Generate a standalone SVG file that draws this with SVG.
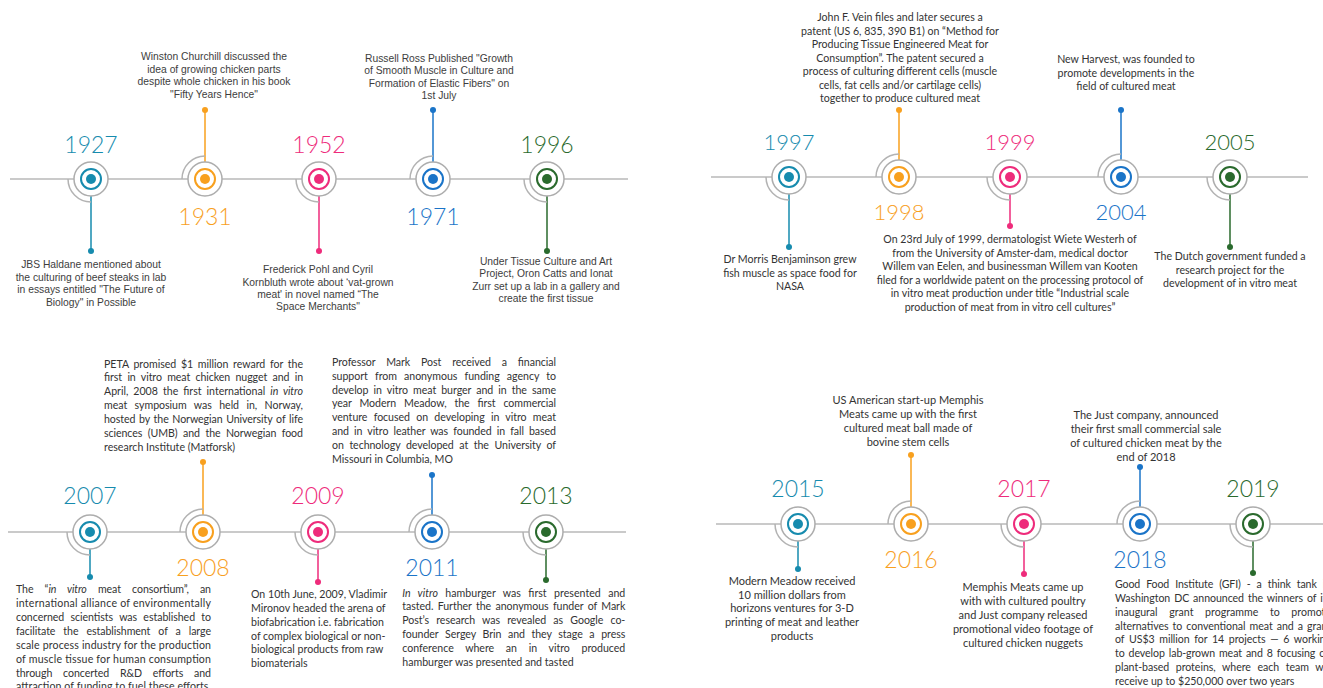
<svg xmlns="http://www.w3.org/2000/svg" width="1323" height="688" viewBox="0 0 1323 688">
<style>
.tl{stroke:#b8b8b8;stroke-width:1.5;fill:none}
.stem{stroke:currentColor;stroke-width:1.5;fill:none}
.end{fill:currentColor}
.gc{fill:#fff;stroke:#adadad;stroke-width:1.5}
.arc{fill:none;stroke:#b3b3b3;stroke-width:1.5}
.ring{fill:#fff;stroke:currentColor;stroke-width:2}
.dot{fill:currentColor}
.yr{font-family:Lato,"Liberation Sans",sans-serif;font-weight:300;font-size:23px;text-anchor:middle;fill:currentColor}
.y2{font-size:22px}
.a{font-family:"Liberation Sans",Arial,sans-serif;font-size:10.3px;fill:#3d3d3d;text-anchor:middle}
.c{font-family:Lato,"Open Sans",sans-serif;font-size:10.6px;fill:#333}
.cm{font-family:Lato,"Open Sans",sans-serif;font-size:10.6px;fill:#333;text-anchor:middle}
.c4{font-size:11px}
.i{font-style:italic}
.teal{color:#168bae}
.orange{color:#f8a01e}
.pink{color:#ee2b7b}
.blue{color:#1a74c8}
.green{color:#2a6a2d}
</style>
<rect width="1323" height="688" fill="#fff"/>

<g id="connectors">
  <line class="tl" x1="10" y1="179" x2="628" y2="179"/>
  <line class="tl" x1="711" y1="177" x2="1308" y2="177"/>
  <line class="tl" x1="8" y1="532" x2="626" y2="532"/>
  <line class="tl" x1="716" y1="524" x2="1323" y2="524"/>
  <g class="teal"><line class="stem" x1="91" y1="196" x2="91" y2="251"/><circle class="end" cx="91" cy="251" r="3"/></g>
  <g class="orange"><line class="stem" x1="205" y1="162" x2="205" y2="110"/><circle class="end" cx="205" cy="110" r="3"/></g>
  <g class="pink"><line class="stem" x1="319" y1="196" x2="319" y2="251"/><circle class="end" cx="319" cy="251" r="3"/></g>
  <g class="blue"><line class="stem" x1="433" y1="162" x2="433" y2="110"/><circle class="end" cx="433" cy="110" r="3"/></g>
  <g class="green"><line class="stem" x1="547" y1="196" x2="547" y2="251"/><circle class="end" cx="547" cy="251" r="3"/></g>

  <g class="teal"><line class="stem" x1="789" y1="194" x2="789" y2="247"/><circle class="end" cx="789" cy="247" r="3"/></g>
  <g class="orange"><line class="stem" x1="899" y1="160" x2="899" y2="110"/><circle class="end" cx="899" cy="110" r="3"/></g>
  <g class="pink"><line class="stem" x1="1010" y1="194" x2="1010" y2="226"/><circle class="end" cx="1010" cy="226" r="3"/></g>
  <g class="blue"><line class="stem" x1="1121" y1="160" x2="1121" y2="110"/><circle class="end" cx="1121" cy="110" r="3"/></g>
  <g class="green"><line class="stem" x1="1230" y1="194" x2="1230" y2="247"/><circle class="end" cx="1230" cy="247" r="3"/></g>

  <g class="teal"><line class="stem" x1="90" y1="549" x2="90" y2="577"/><circle class="end" cx="90" cy="577" r="3"/></g>
  <g class="orange"><line class="stem" x1="203" y1="515" x2="203" y2="462"/><circle class="end" cx="203" cy="462" r="3"/></g>
  <g class="pink"><line class="stem" x1="318" y1="549" x2="318" y2="582"/><circle class="end" cx="318" cy="582" r="3"/></g>
  <g class="blue"><line class="stem" x1="432" y1="515" x2="432" y2="475"/><circle class="end" cx="432" cy="475" r="3"/></g>
  <g class="green"><line class="stem" x1="546" y1="549" x2="546" y2="580"/><circle class="end" cx="546" cy="580" r="3"/></g>

  <g class="teal"><line class="stem" x1="798" y1="541" x2="798" y2="569"/><circle class="end" cx="798" cy="569" r="3"/></g>
  <g class="orange"><line class="stem" x1="911" y1="507" x2="911" y2="455"/><circle class="end" cx="911" cy="455" r="3"/></g>
  <g class="pink"><line class="stem" x1="1024" y1="541" x2="1024" y2="574"/><circle class="end" cx="1024" cy="574" r="3"/></g>
  <g class="blue"><line class="stem" x1="1140" y1="507" x2="1140" y2="467"/><circle class="end" cx="1140" cy="467" r="3"/></g>
  <g class="green"><line class="stem" x1="1253" y1="541" x2="1253" y2="573"/><circle class="end" cx="1253" cy="573" r="3"/></g>
</g>

<!-- Panel 1 -->
<g id="n1927" class="teal">
  <path class="arc" d="M68,179A23,23 0 0 0 91,202"/>
  <circle class="gc" cx="91" cy="179" r="17"/><circle class="ring" cx="91" cy="179" r="10"/><circle class="dot" cx="91" cy="179" r="5"/>
  <text class="yr" x="91" y="153">1927</text>
  <text class="a"><tspan x="91" y="268">JBS Haldane mentioned about</tspan><tspan x="91" y="280.5">the culturing of beef steaks in lab</tspan><tspan x="91" y="293">in essays entitled "The Future of</tspan><tspan x="91" y="305.5">Biology" in Possible</tspan></text>
</g>
<g id="n1931" class="orange">
  <path class="arc" d="M182,179A23,23 0 0 1 205,156"/>
  <circle class="gc" cx="205" cy="179" r="17"/><circle class="ring" cx="205" cy="179" r="10"/><circle class="dot" cx="205" cy="179" r="5"/>
  <text class="yr" x="205" y="225">1931</text>
  <text class="a"><tspan x="214" y="60">Winston Churchill discussed the</tspan><tspan x="214" y="72.5">idea of growing chicken parts</tspan><tspan x="214" y="85">despite whole chicken in his book</tspan><tspan x="214" y="97.5">"Fifty Years Hence"</tspan></text>
</g>
<g id="n1952" class="pink">
  <path class="arc" d="M296,179A23,23 0 0 0 319,202"/>
  <circle class="gc" cx="319" cy="179" r="17"/><circle class="ring" cx="319" cy="179" r="10"/><circle class="dot" cx="319" cy="179" r="5"/>
  <text class="yr" x="319" y="153">1952</text>
  <text class="a"><tspan x="318" y="273">Frederick Pohl and Cyril</tspan><tspan x="318" y="285.5">Kornbluth wrote about ‘vat-grown</tspan><tspan x="318" y="298">meat' in novel named “The</tspan><tspan x="318" y="310">Space Merchants"</tspan></text>
</g>
<g id="n1971" class="blue">
  <path class="arc" d="M410,179A23,23 0 0 1 433,156"/>
  <circle class="gc" cx="433" cy="179" r="17"/><circle class="ring" cx="433" cy="179" r="10"/><circle class="dot" cx="433" cy="179" r="5"/>
  <text class="yr" x="433" y="225">1971</text>
  <text class="a"><tspan x="439" y="61.5">Russell Ross Published "Growth</tspan><tspan x="439" y="74">of Smooth Muscle in Culture and</tspan><tspan x="439" y="86.5">Formation of Elastic Fibers" on</tspan><tspan x="439" y="98.5">1st July</tspan></text>
</g>
<g id="n1996" class="green">
  <path class="arc" d="M524,179A23,23 0 0 0 547,202"/>
  <circle class="gc" cx="547" cy="179" r="17"/><circle class="ring" cx="547" cy="179" r="10"/><circle class="dot" cx="547" cy="179" r="5"/>
  <text class="yr" x="547" y="153">1996</text>
  <text class="a"><tspan x="546" y="265">Under Tissue Culture and Art</tspan><tspan x="546" y="277">Project, Oron Catts and Ionat</tspan><tspan x="546" y="289.5">Zurr set up a lab in a gallery and</tspan><tspan x="546" y="301.5">create the first tissue</tspan></text>
</g>

<!-- Panel 2 -->
<g id="n1997" class="teal">
  <path class="arc" d="M766,177A23,23 0 0 0 789,200"/>
  <circle class="gc" cx="789" cy="177" r="17"/><circle class="ring" cx="789" cy="177" r="10"/><circle class="dot" cx="789" cy="177" r="5"/>
  <text class="yr y2" x="789" y="150">1997</text>
  <text class="cm"><tspan x="790" y="263">Dr Morris Benjaminson grew</tspan><tspan x="790" y="276.5">fish muscle as space food for</tspan><tspan x="790" y="290">NASA</tspan></text>
</g>
<g id="n1998" class="orange">
  <path class="arc" d="M876,177A23,23 0 0 1 899,154"/>
  <circle class="gc" cx="899" cy="177" r="17"/><circle class="ring" cx="899" cy="177" r="10"/><circle class="dot" cx="899" cy="177" r="5"/>
  <text class="yr y2" x="899" y="220">1998</text>
  <text class="cm"><tspan x="900" y="21">John F. Vein files and later secures a</tspan><tspan x="900" y="34.5">patent (US 6, 835, 390 B1) on “Method for</tspan><tspan x="900" y="48">Producing Tissue Engineered Meat for</tspan><tspan x="900" y="61.5">Consumption”. The patent secured a</tspan><tspan x="900" y="75">process of culturing different cells (muscle</tspan><tspan x="900" y="88.5">cells, fat cells and/or cartilage cells)</tspan><tspan x="900" y="102">together to produce cultured meat</tspan></text>
</g>
<g id="n1999" class="pink">
  <path class="arc" d="M987,177A23,23 0 0 0 1010,200"/>
  <circle class="gc" cx="1010" cy="177" r="17"/><circle class="ring" cx="1010" cy="177" r="10"/><circle class="dot" cx="1010" cy="177" r="5"/>
  <text class="yr y2" x="1010" y="150">1999</text>
  <text class="cm"><tspan x="1010" y="243">On 23rd July of 1999, dermatologist Wiete Westerh of</tspan><tspan x="1010" y="256.5">from the University of Amster-dam, medical doctor</tspan><tspan x="1010" y="270">Willem van Eelen, and businessman Willem van Kooten</tspan><tspan x="1010" y="283.5">filed for a worldwide patent on the processing protocol of</tspan><tspan x="1010" y="297">in vitro meat production under title “Industrial scale</tspan><tspan x="1010" y="310.5">production of meat from in vitro cell cultures”</tspan></text>
</g>
<g id="n2004" class="blue">
  <path class="arc" d="M1098,177A23,23 0 0 1 1121,154"/>
  <circle class="gc" cx="1121" cy="177" r="17"/><circle class="ring" cx="1121" cy="177" r="10"/><circle class="dot" cx="1121" cy="177" r="5"/>
  <text class="yr y2" x="1121" y="220">2004</text>
  <text class="cm"><tspan x="1126" y="63">New Harvest, was founded to</tspan><tspan x="1126" y="76.5">promote developments in the</tspan><tspan x="1126" y="90">field of cultured meat</tspan></text>
</g>
<g id="n2005" class="green">
  <path class="arc" d="M1207,177A23,23 0 0 0 1230,200"/>
  <circle class="gc" cx="1230" cy="177" r="17"/><circle class="ring" cx="1230" cy="177" r="10"/><circle class="dot" cx="1230" cy="177" r="5"/>
  <text class="yr y2" x="1230" y="150">2005</text>
  <text class="cm"><tspan x="1230" y="260">The Dutch government funded a</tspan><tspan x="1230" y="273.5">research project for the</tspan><tspan x="1230" y="287">development of in vitro meat</tspan></text>
</g>

<!-- Panel 3 -->
<g id="n2007" class="teal">
  <path class="arc" d="M67,532A23,23 0 0 0 90,555"/>
  <circle class="gc" cx="90" cy="532" r="17"/><circle class="ring" cx="90" cy="532" r="10"/><circle class="dot" cx="90" cy="532" r="5"/>
  <text class="yr" x="90" y="504">2007</text>
  <text class="c" x="16" y="593" textLength="195" lengthAdjust="spacing" style="word-spacing:8.5px">The “<tspan class="i">in vitro</tspan> meat consortium”, an</text>
  <text class="c" x="16" y="607" textLength="195" lengthAdjust="spacing">international alliance of environmentally</text>
  <text class="c" x="16" y="621" textLength="195" lengthAdjust="spacing" style="word-spacing:3.6px">concerned scientists was established to</text>
  <text class="c" x="16" y="634.5" textLength="195" lengthAdjust="spacing" style="word-spacing:5.3px">facilitate the establishment of a large</text>
  <text class="c" x="16" y="648.5" textLength="195" lengthAdjust="spacing">scale process industry for the production</text>
  <text class="c" x="16" y="662.5" textLength="195" lengthAdjust="spacing">of muscle tissue for human consumption</text>
  <text class="c" x="16" y="676.5" textLength="195" lengthAdjust="spacing" style="word-spacing:8.2px">through concerted R&amp;D efforts and</text>
  <text class="c" x="16" y="689.5" textLength="195" lengthAdjust="spacing">attraction of funding to fuel these efforts.</text>
</g>
<g id="n2008" class="orange">
  <path class="arc" d="M180,532A23,23 0 0 1 203,509"/>
  <circle class="gc" cx="203" cy="532" r="17"/><circle class="ring" cx="203" cy="532" r="10"/><circle class="dot" cx="203" cy="532" r="5"/>
  <text class="yr" x="203" y="576">2008</text>
  <text class="c" x="104" y="367.5" textLength="199" lengthAdjust="spacing" style="word-spacing:2px">PETA promised $1 million reward for the</text>
  <text class="c" x="104" y="381" textLength="199" lengthAdjust="spacing" style="word-spacing:2.7px">first in vitro meat chicken nugget and in</text>
  <text class="c" x="104" y="395" textLength="199" lengthAdjust="spacing" style="word-spacing:2.4px">April, 2008 the first international <tspan class="i">in vitro</tspan></text>
  <text class="c" x="104" y="409" textLength="199" lengthAdjust="spacing" style="word-spacing:4.7px">meat symposium was held in, Norway,</text>
  <text class="c" x="104" y="423" textLength="199" lengthAdjust="spacing" style="word-spacing:1px">hosted by the Norwegian University of life</text>
  <text class="c" x="104" y="437" textLength="199" lengthAdjust="spacing" style="word-spacing:2.8px">sciences (UMB) and the Norwegian food</text>
  <text class="c" x="104" y="451">research Institute (Matforsk)</text>
</g>
<g id="n2009" class="pink">
  <path class="arc" d="M295,532A23,23 0 0 0 318,555"/>
  <circle class="gc" cx="318" cy="532" r="17"/><circle class="ring" cx="318" cy="532" r="10"/><circle class="dot" cx="318" cy="532" r="5"/>
  <text class="yr" x="318" y="504">2009</text>
  <text class="c"><tspan x="251" y="597.5">On 10th June, 2009, Vladimir</tspan><tspan x="251" y="611.5">Mironov headed the arena of</tspan><tspan x="251" y="625.5">biofabrication i.e. fabrication</tspan><tspan x="251" y="639.5">of complex biological or non-</tspan><tspan x="251" y="653">biological products from raw</tspan><tspan x="251" y="667">biomaterials</tspan></text>
</g>
<g id="n2011" class="blue">
  <path class="arc" d="M409,532A23,23 0 0 1 432,509"/>
  <circle class="gc" cx="432" cy="532" r="17"/><circle class="ring" cx="432" cy="532" r="10"/><circle class="dot" cx="432" cy="532" r="5"/>
  <text class="yr" x="432" y="576">2011</text>
  <text class="c" x="332" y="366" textLength="224" lengthAdjust="spacing" style="word-spacing:8.2px">Professor Mark Post received a financial</text>
  <text class="c" x="332" y="379.5" textLength="224" lengthAdjust="spacing" style="word-spacing:4.5px">support from anonymous funding agency to</text>
  <text class="c" x="332" y="393.5" textLength="224" lengthAdjust="spacing" style="word-spacing:2.4px">develop in vitro meat burger and in the same</text>
  <text class="c" x="332" y="407" textLength="224" lengthAdjust="spacing" style="word-spacing:5.2px">year Modern Meadow, the first commercial</text>
  <text class="c" x="332" y="421" textLength="224" lengthAdjust="spacing" style="word-spacing:3.6px">venture focused on developing in vitro meat</text>
  <text class="c" x="332" y="435" textLength="224" lengthAdjust="spacing" style="word-spacing:2.5px">and in vitro leather was founded in fall based</text>
  <text class="c" x="332" y="448.5" textLength="224" lengthAdjust="spacing" style="word-spacing:2.9px">on technology developed at the University of</text>
  <text class="c" x="332" y="462.5">Missouri in Columbia, MO</text>
</g>
<g id="n2013" class="green">
  <path class="arc" d="M523,532A23,23 0 0 0 546,555"/>
  <circle class="gc" cx="546" cy="532" r="17"/><circle class="ring" cx="546" cy="532" r="10"/><circle class="dot" cx="546" cy="532" r="5"/>
  <text class="yr" x="546" y="504">2013</text>
  <text class="c" x="402.3" y="596.5" textLength="223" lengthAdjust="spacing" style="word-spacing:4.6px"><tspan class="i">In vitro</tspan> hamburger was first presented and</text>
  <text class="c" x="402.3" y="610" textLength="223" lengthAdjust="spacing" style="word-spacing:1.7px">tasted. Further the anonymous funder of Mark</text>
  <text class="c" x="402.3" y="624" textLength="223" lengthAdjust="spacing" style="word-spacing:4.6px">Post’s research was revealed as Google co-</text>
  <text class="c" x="402.3" y="638" textLength="223" lengthAdjust="spacing" style="word-spacing:4px">founder Sergey Brin and they stage a press</text>
  <text class="c" x="402.3" y="651.5" textLength="223" lengthAdjust="spacing" style="word-spacing:9px">conference where an in vitro produced</text>
  <text class="c" x="402.3" y="665.5">hamburger was presented and tasted</text>
</g>

<!-- Panel 4 -->
<g id="n2015" class="teal">
  <path class="arc" d="M775,524A23,23 0 0 0 798,547"/>
  <circle class="gc" cx="798" cy="524" r="17"/><circle class="ring" cx="798" cy="524" r="10"/><circle class="dot" cx="798" cy="524" r="5"/>
  <text class="yr" x="798" y="497">2015</text>
  <text class="cm c4"><tspan x="792" y="585">Modern Meadow received</tspan><tspan x="792" y="598.5">10 million dollars from</tspan><tspan x="792" y="612">horizons ventures for 3-D</tspan><tspan x="792" y="626">printing of meat and leather</tspan><tspan x="792" y="640">products</tspan></text>
</g>
<g id="n2016" class="orange">
  <path class="arc" d="M888,524A23,23 0 0 1 911,501"/>
  <circle class="gc" cx="911" cy="524" r="17"/><circle class="ring" cx="911" cy="524" r="10"/><circle class="dot" cx="911" cy="524" r="5"/>
  <text class="yr" x="911" y="568">2016</text>
  <text class="cm c4"><tspan x="908" y="404">US American start-up Memphis</tspan><tspan x="908" y="418">Meats came up with the first</tspan><tspan x="908" y="432">cultured meat ball made of</tspan><tspan x="908" y="446">bovine stem cells</tspan></text>
</g>
<g id="n2017" class="pink">
  <path class="arc" d="M1001,524A23,23 0 0 0 1024,547"/>
  <circle class="gc" cx="1024" cy="524" r="17"/><circle class="ring" cx="1024" cy="524" r="10"/><circle class="dot" cx="1024" cy="524" r="5"/>
  <text class="yr" x="1024" y="497">2017</text>
  <text class="cm c4"><tspan x="1023" y="591">Memphis Meats came up</tspan><tspan x="1023" y="605">with with cultured poultry</tspan><tspan x="1023" y="619">and Just company released</tspan><tspan x="1023" y="633">promotional video footage of</tspan><tspan x="1023" y="647">cultured chicken nuggets</tspan></text>
</g>
<g id="n2018" class="blue">
  <path class="arc" d="M1117,524A23,23 0 0 1 1140,501"/>
  <circle class="gc" cx="1140" cy="524" r="17"/><circle class="ring" cx="1140" cy="524" r="10"/><circle class="dot" cx="1140" cy="524" r="5"/>
  <text class="yr" x="1140" y="568">2018</text>
  <text class="cm c4"><tspan x="1146" y="419">The Just company, announced</tspan><tspan x="1146" y="433">their first small commercial sale</tspan><tspan x="1146" y="447">of cultured chicken meat by the</tspan><tspan x="1146" y="461">end of 2018</tspan></text>
</g>
<g id="n2019" class="green">
  <path class="arc" d="M1230,524A23,23 0 0 0 1253,547"/>
  <circle class="gc" cx="1253" cy="524" r="17"/><circle class="ring" cx="1253" cy="524" r="10"/><circle class="dot" cx="1253" cy="524" r="5"/>
  <text class="yr" x="1253" y="497">2019</text>
  <text class="c" x="1115" y="587.5" textLength="216" lengthAdjust="spacing" style="word-spacing:3.4px">Good Food Institute (GFI) - a think tank in</text>
  <text class="c" x="1115" y="601.5" textLength="216" lengthAdjust="spacing" style="word-spacing:1.3px">Washington DC announced the winners of its</text>
  <text class="c" x="1115" y="615.5" textLength="216" lengthAdjust="spacing" style="word-spacing:8.9px">inaugural grant programme to promote</text>
  <text class="c" x="1115" y="629.5" textLength="216" lengthAdjust="spacing" style="word-spacing:1.4px">alternatives to conventional meat and a grant</text>
  <text class="c" x="1115" y="643" textLength="216" lengthAdjust="spacing" style="word-spacing:2px">of US$3 million for 14 projects — 6 working</text>
  <text class="c" x="1115" y="657" textLength="216" lengthAdjust="spacing" style="word-spacing:1.3px">to develop lab-grown meat and 8 focusing on</text>
  <text class="c" x="1115" y="671" textLength="216" lengthAdjust="spacing" style="word-spacing:3.9px">plant-based proteins, where each team will</text>
  <text class="c" x="1115" y="685">receive up to $250,000 over two years</text>
</g>
</svg>
